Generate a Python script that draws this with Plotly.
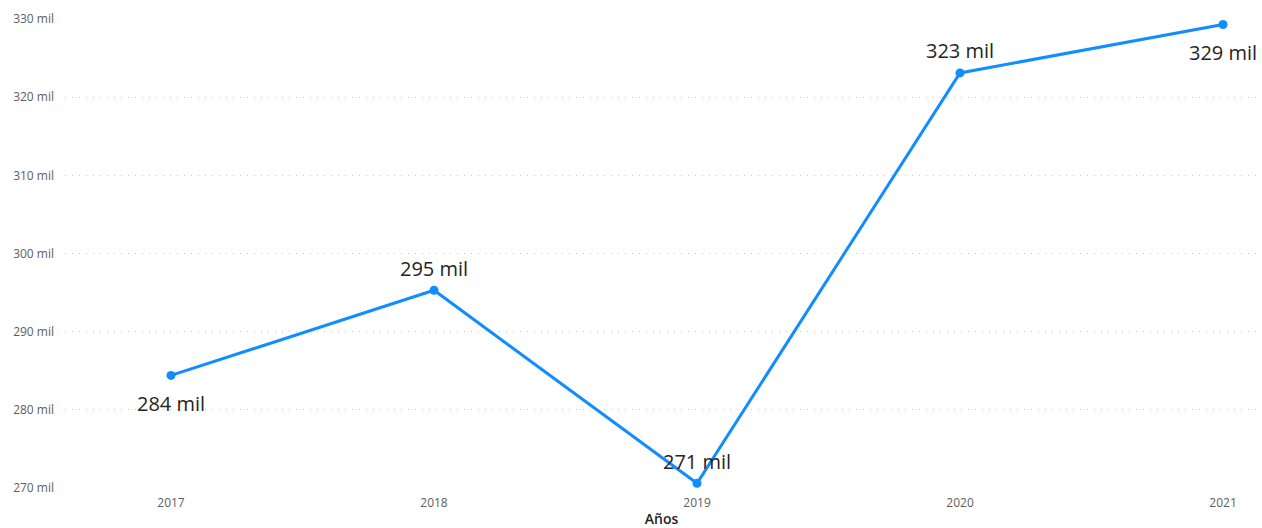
import plotly.graph_objects as go

years = ["2017", "2018", "2019", "2020", "2021"]
values = [284.4, 295.3, 270.6, 323.1, 329.3]
labels = ["284 mil", "295 mil", "271 mil", "323 mil", "329 mil"]
label_side = ["below", "above", "above", "above", "below"]
y_ticks = [270, 280, 290, 300, 310, 320, 330]
y_tick_text = [f"{v} mil" for v in y_ticks]

xs = list(range(len(years)))
FONT = "Open Sans, Segoe UI, sans-serif"

fig = go.Figure()
fig.add_trace(go.Scatter(
    x=xs, y=values, mode="lines+markers",
    line=dict(color="#118DFF", width=3),
    marker=dict(color="#118DFF", size=9),
    cliponaxis=False, hoverinfo="skip",
))

for x, v, t, side in zip(xs, values, labels, label_side):
    fig.add_annotation(
        x=x, y=v, text=t, showarrow=False,
        yshift=-28 if side == "below" else 22,
        font=dict(family=FONT, size=20, color="#252423"),
    )

fig.update_layout(
    width=1262, height=528,
    margin=dict(l=65, r=4, t=19, b=40),
    paper_bgcolor="white", plot_bgcolor="white",
    showlegend=False,
    font=dict(family=FONT, color="#605E5C"),
)
fig.update_xaxes(
    range=[-0.403, 4.133],
    tickmode="array", tickvals=xs, ticktext=years,
    showgrid=False, zeroline=False, showline=False,
    tickfont=dict(size=12, color="#605E5C"),
    title=dict(text="Años", font=dict(size=14, color="#252423", weight=600), standoff=4),
    ticklen=0, ticklabelstandoff=6,
)
fig.update_yaxes(
    range=[270, 330],
    tickmode="array", tickvals=y_ticks, ticktext=y_tick_text,
    showgrid=True, gridcolor="#C8C6C4", griddash="1px,6px", gridwidth=1,
    zeroline=False, showline=False,
    tickfont=dict(size=12, color="#605E5C"),
    ticklen=0, ticklabelstandoff=10,
)

fig.write_html(
    "out.html",
    config={"displayModeBar": False},
    post_script="document.body.style.margin='0';document.body.style.overflow='hidden';",
)
